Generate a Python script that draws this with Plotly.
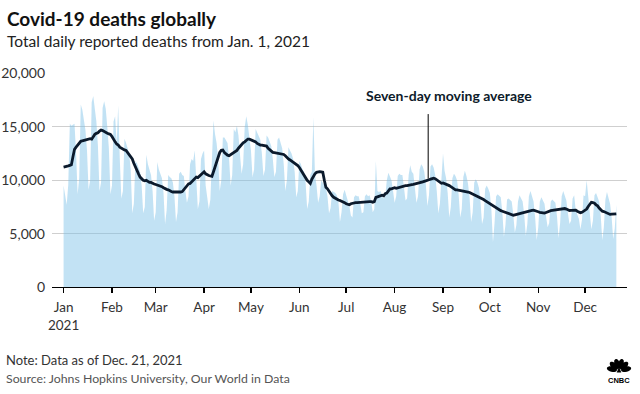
import math
import pandas as pd
import plotly.graph_objects as go

# ---------------- data ----------------
daily_deaths = [
    9500, 8400, 7700, 9600, 15300, 15100, 15200,
    15300, 12500, 8700, 10200, 17100, 16600, 15400,
    14700, 12800, 9100, 10000, 17300, 17900, 16500,
    15500, 13200, 9000, 9800, 16800, 17400, 16700,
    15000, 13000, 8700, 9500, 15500, 16000, 13500,
    17000, 12000, 8300, 9000, 13900, 13500, 13000,
    12500, 11000, 6900, 7800, 11800, 11600, 11200,
    10800, 9500, 6900, 7500, 12400, 11500, 11000,
    10500, 9000, 6200, 7000, 11700, 11000, 10600,
    10200, 8800, 5900, 7200, 10500, 10300, 10200,
    9800, 8500, 6100, 7000, 10600, 10800, 10500,
    10400, 9000, 7900, 8500, 11500, 12000, 11800,
    12800, 10500, 7300, 8000, 12000, 12500, 12800,
    9500, 8500, 7300, 8200, 12500, 15600, 14300,
    13500, 12000, 9000, 10000, 14000, 14000, 13800,
    13500, 12000, 9500, 10500, 14800, 14500, 15100,
    14200, 12500, 10600, 11500, 15000, 16000, 15200,
    14000, 12800, 10300, 11000, 14800, 14500, 14200,
    13800, 12500, 10400, 11000, 14200, 14000, 13500,
    13200, 12000, 10300, 10800, 13800, 14000, 13600,
    13000, 11500, 9000, 10000, 13100, 12800, 12500,
    12000, 10800, 8400, 9000, 11800, 11500, 11000,
    10800, 9800, 7300, 8000, 10500, 10800, 15900,
    10500, 9500, 7900, 8500, 10000, 9800, 9500,
    9300, 8500, 6900, 7400, 9000, 8900, 8800,
    8600, 8000, 6100, 7000, 8700, 9100, 8600,
    8200, 7600, 6700, 6500, 8400, 8600, 8500,
    8500, 7800, 6900, 7000, 8500, 8700, 8500,
    8600, 8000, 7000, 7300, 11800, 9000, 8900,
    9000, 8500, 8300, 8500, 10000, 10700, 10300,
    10000, 9000, 7900, 8500, 10400, 10600, 10500,
    10500, 9200, 8100, 8300, 10500, 11400, 10800,
    10600, 9500, 7900, 8500, 11000, 11500, 11300,
    10800, 9600, 7600, 8600, 11300, 11500, 11200,
    10500, 9000, 6900, 7800, 10800, 12500, 10900,
    10200, 8800, 6500, 7500, 10200, 10600, 10400,
    10000, 8700, 6500, 7300, 10300, 10900, 10400,
    9700, 8400, 6100, 7000, 9800, 10100, 9800,
    9300, 8000, 5900, 6500, 9200, 9500, 9200,
    8800, 7200, 4200, 6000, 8500, 8700, 8500,
    8400, 7000, 4700, 5800, 8200, 8300, 8100,
    8000, 6800, 5100, 5800, 8000, 8600, 8300,
    8000, 6800, 4800, 5900, 8500, 9000, 8600,
    8000, 6500, 4400, 5600, 8000, 8400, 8000,
    7800, 6600, 5600, 6000, 8000, 8200, 8000,
    7900, 6600, 4600, 6000, 8500, 9000, 8600,
    8100, 6900, 5900, 6200, 8300, 8600, 7200,
    6800, 6400, 5400, 6300, 8600, 8500, 10000,
    8500, 7400, 5400, 6200, 8600, 8800, 8400,
    8000, 6700, 4400, 5600, 8200, 8900, 8200,
    7800, 6500, 4500, 5500, 7700,
]

moving_avg = [
    11240, 11300, 11350, 11350, 11400, 11450, 12200,
    12900, 13100, 13300, 13500, 13650, 13700, 13750,
    13800, 13850, 13900, 13900, 13850, 14100, 14300,
    14400, 14450, 14600, 14700, 14650, 14550, 14500,
    14400, 14350, 14300, 14100, 13800, 13600, 13400,
    13300, 13100, 13000, 12950, 12850, 12800, 12600,
    12400, 12200, 12000, 11600, 11200, 10900, 10600,
    10300, 10100, 10000, 9950, 10000, 9900, 9800,
    9800, 9700, 9650, 9600, 9560, 9500, 9450,
    9400, 9300, 9200, 9150, 9100, 9000, 8950,
    8900, 8900, 8880, 8850, 8880, 8900, 8940,
    9100, 9300, 9500, 9660, 9700, 9850, 10000,
    10200, 10300, 10250, 10400, 10600, 10750, 10800,
    10600, 10500, 10450, 10400, 10370, 10800, 11300,
    11800, 12300, 12600, 12800, 12830, 12600, 12450,
    12350, 12300, 12400, 12500, 12600, 12700, 12800,
    13000, 13200, 13350, 13500, 13600, 13750, 13860,
    13850, 13800, 13750, 13700, 13600, 13450, 13350,
    13300, 13300, 13250, 13250, 13200, 13000, 12850,
    12700, 12620, 12600, 12580, 12550, 12520, 12500,
    12450, 12420, 12300, 12100, 12000, 11900, 11800,
    11700, 11600, 11500, 11370, 11200, 10950, 10700,
    10400, 10200, 10000, 9850, 9700, 10100, 10400,
    10600, 10750, 10800, 10800, 10780, 10750, 10000,
    9350, 9200, 8950, 8750, 8550, 8400, 8300,
    8200, 8150, 8100, 8050, 8000, 7900, 7800,
    7750, 7700, 7800, 7850, 7880, 7900, 7900,
    7920, 7920, 7940, 7940, 7950, 7980, 8000,
    8000, 8000, 7950, 8000, 8400, 8450, 8500,
    8550, 8600, 8550, 8750, 8800, 8950, 9200,
    9200, 9250, 9300, 9250, 9300, 9350, 9380,
    9400, 9450, 9500, 9500, 9550, 9600, 9600,
    9620, 9650, 9660, 9700, 9750, 9800, 9850,
    9900, 9970, 10000, 10050, 10100, 10150, 10200,
    10150, 10050, 9900, 9800, 9720, 9750, 9700,
    9650, 9600, 9500, 9400, 9300, 9200, 9100,
    9100, 9080, 9050, 9020, 9000, 8970, 8940,
    8900, 8850, 8780, 8720, 8660, 8600, 8550,
    8450, 8350, 8280, 8200, 8100, 8000, 7900,
    7800, 7700, 7600, 7500, 7410, 7350, 7250,
    7150, 7100, 7050, 7000, 6950, 6850, 6800,
    6750, 6720, 6760, 6800, 6850, 6900, 6950,
    7000, 7050, 7070, 7100, 7120, 7150, 7180,
    7200, 7170, 7120, 7050, 7000, 6950, 6900,
    6920, 6980, 7050, 7100, 7150, 7170, 7200,
    7220, 7250, 7280, 7320, 7350, 7380, 7350,
    7300, 7220, 7170, 7180, 7200, 7220, 7200,
    7100, 7000, 6950, 7000, 7100, 7200, 7300,
    7550, 7800, 7940, 7900, 7850, 7700, 7600,
    7400, 7250, 7100, 7070, 7000, 6900, 6850,
    6800, 6820, 6850, 6850, 6860,
]

start_date = "2021-01-01"
month_labels = ["Jan<br>2021", "Feb", "Mar", "Apr", "May", "Jun",
                "Jul", "Aug", "Sep", "Oct", "Nov", "Dec"]
y_tick_values = [0, 5000, 10000, 15000, 20000]
y_tick_labels = ["0", "5,000", "10,000", "15,000", "20,000"]

annotation_date = "2021-08-22 12:00"
annotation_top = 16200

dates = pd.date_range(start_date, periods=len(daily_deaths), freq="D")
month_ticks = pd.date_range(start_date, periods=len(month_labels), freq="MS")

# ---------------- layout geometry (pixels) ----------------
W, H = 640, 394
L, R, T, B = 52, 13, 73, 107
PX0, PX1, PY0, PY1 = L, W - R, T, H - B


def px(x):
    return (x - PX0) / (PX1 - PX0)


def py(y):
    return (PY1 - y) / (PY1 - PY0)


FONT = "Lato, 'Open Sans', sans-serif"

fig = go.Figure()
fig.add_trace(go.Scatter(
    x=dates, y=daily_deaths, mode="lines",
    line=dict(width=0, color="rgba(120,190,230,0)"),
    fill="tozeroy", fillcolor="rgba(120,190,230,0.45)",
    hoverinfo="skip",
))
fig.add_trace(go.Scatter(
    x=dates, y=moving_avg, mode="lines",
    line=dict(width=2.8, color="#0b1a2c"),
    hoverinfo="skip",
))

fig.update_layout(
    width=W, height=H, autosize=False,
    margin=dict(l=L, r=R, t=T, b=B, pad=0, autoexpand=False),
    paper_bgcolor="white", plot_bgcolor="white",
    showlegend=False, hovermode=False,
    font=dict(family=FONT, color="#333"),
    xaxis=dict(
        type="date", automargin=False,
        range=["2020-12-24 14:00", "2021-12-27 20:00"],
        tickvals=month_ticks, ticktext=month_labels,
        showgrid=False, zeroline=False,
        showline=True, linecolor="#000", linewidth=1.2,
        ticks="outside", ticklen=5, tickwidth=1.5, tickcolor="#000",
        tickfont=dict(size=13.5, color="#333", family=FONT),
        ticklabelstandoff=3,
    ),
    yaxis=dict(
        automargin=False,
        range=[0, 20050],
        tickvals=y_tick_values, ticktext=y_tick_labels,
        showgrid=True, gridcolor="#cfcfcf", gridwidth=1,
        zeroline=False, showline=False, ticks="",
        tickfont=dict(size=14, color="#333", family=FONT),
        ticklabelstandoff=6,
    ),
)

annotations = [
    dict(text="<b>Covid-19 deaths globally</b>", x=px(5), y=py(18),
         font=dict(size=19, color="#111", family=FONT)),
    dict(text="Total daily reported deaths from Jan. 1, 2021", x=px(5), y=py(41),
         font=dict(size=15.5, color="#222", family=FONT)),
    dict(text="Note: Data as of Dec. 21, 2021", x=px(4), y=py(360),
         font=dict(size=13, color="#333", family=FONT)),
    dict(text="Source: Johns Hopkins University, Our World in Data", x=px(4), y=py(378),
         font=dict(size=12.3, color="#555", family=FONT)),
]
for a in annotations:
    a.update(xref="paper", yref="paper", xanchor="left", yanchor="middle",
             showarrow=False)
    fig.add_annotation(**a)

fig.add_annotation(
    text="<b>Seven-day moving average</b>", xref="paper", yref="paper",
    x=px(449), y=py(96), xanchor="center", yanchor="middle", showarrow=False,
    font=dict(size=14, color="#0d1b2a", family=FONT),
)
ann_idx = int((pd.Timestamp(annotation_date) - pd.Timestamp(start_date)).days)
fig.add_shape(type="line", xref="x", yref="y",
              x0=annotation_date, x1=annotation_date,
              y0=moving_avg[ann_idx] + 150, y1=annotation_top,
              line=dict(color="#000", width=1))

# ---------------- CNBC logo (approximation) ----------------
cx, cy = 619.0, 371.0
angles = [166, 135, 105, 75, 45, 14]
for ang in angles:
    th = math.radians(ang)
    d = (math.cos(th), -math.sin(th))
    p = (-d[1], d[0])
    r0, r1, hw = 2.2, 12.5, 2.7
    mid = (r0 + r1) / 2
    a_ = (r1 - r0) / 2
    pts = []
    for k in range(20):
        t = 2 * math.pi * k / 20
        u = mid + a_ * math.cos(t)
        v = hw * math.sin(t)
        X = cx + u * d[0] + v * p[0]
        Y = cy + u * d[1] + v * p[1]
        pts.append((px(X), py(Y)))
    path = "M " + " L ".join(f"{x:.5f},{y:.5f}" for x, y in pts) + " Z"
    fig.add_shape(type="path", xref="paper", yref="paper", path=path,
                  fillcolor="#000", line=dict(width=0))
body = [(cx - 2.3, cy + 1.5), (cx + 2.3, cy + 1.5), (cx, cy - 4)]
fig.add_shape(type="path", xref="paper", yref="paper",
              path="M " + " L ".join(f"{px(x):.5f},{py(y):.5f}" for x, y in body) + " Z",
              fillcolor="#000", line=dict(width=0))
fig.add_annotation(text="<b>CNBC</b>", xref="paper", yref="paper",
                   x=px(619), y=py(380), xanchor="center", yanchor="middle",
                   showarrow=False,
                   font=dict(size=7.5, color="#000", family="'Liberation Sans', Arial, sans-serif"))

fig.write_html("out.html", config={"displayModeBar": False, "staticPlot": True},
               post_script="document.body.style.margin='0px';")
